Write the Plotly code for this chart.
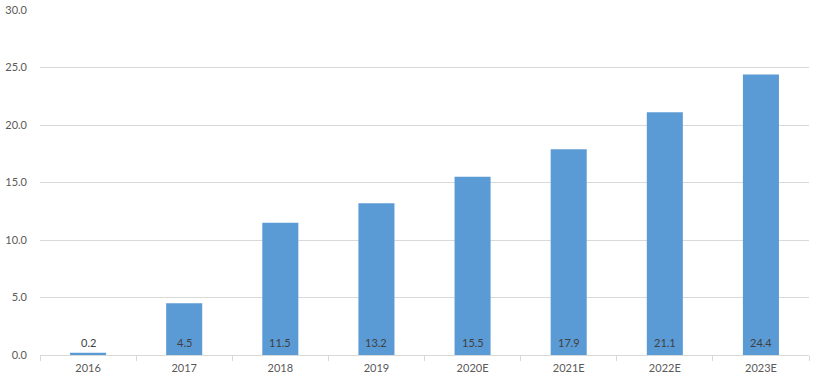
import plotly.graph_objects as go

categories = ["2016", "2017", "2018", "2019", "2020E", "2021E", "2022E", "2023E"]
values = [0.2, 4.5, 11.5, 13.2, 15.5, 17.9, 21.1, 24.4]
y_ticks = [0, 5, 10, 15, 20, 25, 30]

FONT = "Lato, Open Sans, sans-serif"

fig = go.Figure(go.Bar(
    x=categories,
    y=values,
    width=0.375,
    marker=dict(color="#5b9bd5", line=dict(width=0)),
    hoverinfo="x+y",
))

for i, v in enumerate(values):
    fig.add_annotation(
        x=i, y=0, xref="x", yref="y",
        text=f"{v:.1f}", showarrow=False,
        yanchor="middle", yshift=13,
        font=dict(family=FONT, size=11, color="#404040"),
    )

fig.update_layout(
    width=821, height=378,
    margin=dict(l=40, r=12, t=10, b=23, autoexpand=False),
    paper_bgcolor="white", plot_bgcolor="white",
    showlegend=False,
    font=dict(family=FONT, size=11, color="#595959"),
)
fig.update_xaxes(
    type="category", automargin=False,
    categoryorder="array", categoryarray=categories,
    range=[-0.5, len(categories) - 0.5],
    showline=True, linecolor="#d9d9d9", linewidth=1,
    ticks="outside", tickson="boundaries", ticklen=5, tickcolor="#d9d9d9",
    showgrid=False, ticklabelstandoff=3,
    tickfont=dict(family=FONT, size=11, color="#595959"),
)
fig.update_yaxes(
    range=[0, 30], tickvals=y_ticks, tickformat=".1f", automargin=False,
    showgrid=True, gridcolor="#d9d9d9", gridwidth=1,
    zeroline=False, showline=False, ticks="",
    ticklabelstandoff=12,
    tickfont=dict(family=FONT, size=11, color="#595959"),
)

fig.write_html("out.html")
